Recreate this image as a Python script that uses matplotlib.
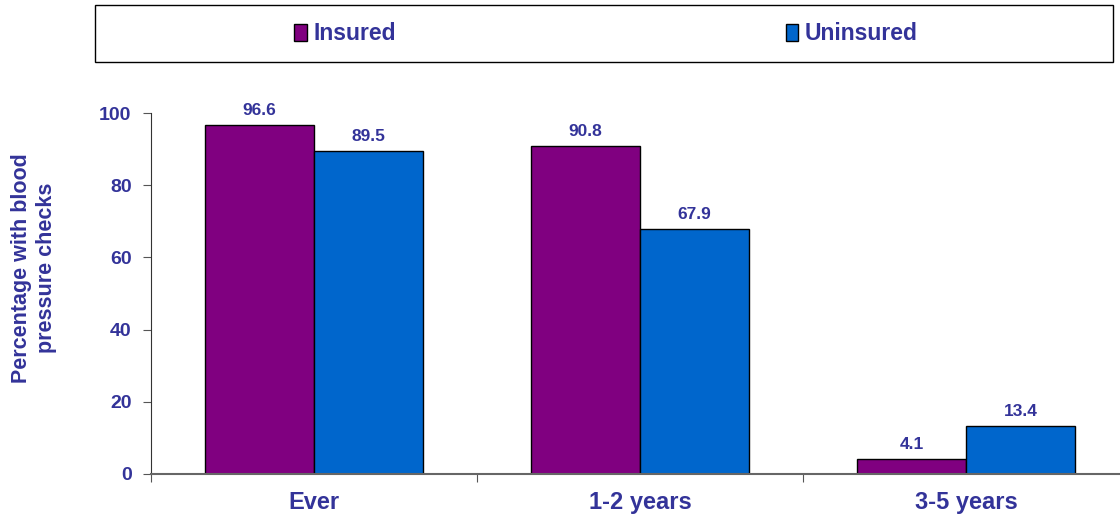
import matplotlib.pyplot as plt
import numpy as np
from matplotlib.patches import Rectangle

plt.rcParams['font.family'] = ['Liberation Sans', 'DejaVu Sans']

categories = ['Ever', '1-2 years', '3-5 years']
insured = [96.6, 90.8, 4.1]
uninsured = [89.5, 67.9, 13.4]

text_color = '#333399'

fig = plt.figure(figsize=(11.2, 5.25), dpi=100)
ax = fig.add_axes([151 / 1120, 1 - 474 / 525, 978 / 1120, 361 / 525])

x = np.arange(len(categories))
w = 0.335
b1 = ax.bar(x - w / 2, insured, w, color='#800080', edgecolor='black', linewidth=1, label='Insured')
b2 = ax.bar(x + w / 2, uninsured, w, color='#0066CC', edgecolor='black', linewidth=1, label='Uninsured')

ax.bar_label(b1, fmt='%.1f', padding=5, color=text_color, fontsize=12.5, fontweight='bold')
ax.bar_label(b2, fmt='%.1f', padding=5, color=text_color, fontsize=12.5, fontweight='bold')

ax.set_xlim(-0.5, 2.5)
ax.set_ylim(0, 100)
ax.set_yticks([0, 20, 40, 60, 80, 100])
ax.set_xticks([-0.5, 0.5, 1.5, 2.5])
ax.set_xticklabels([])
ax.set_xticks(x, minor=True)
ax.set_xticklabels(categories, minor=True)
ax.tick_params(axis='x', which='minor', length=0, pad=12, labelsize=17, labelcolor=text_color)
ax.tick_params(axis='x', which='major', length=6, direction='out', color='#555555')
ax.tick_params(axis='y', length=6, direction='out', labelsize=14, labelcolor=text_color, pad=8, color='#555555')
for lab in ax.get_xticklabels(minor=True) + ax.get_yticklabels():
    lab.set_fontweight('bold')

ax.spines['top'].set_visible(False)
ax.spines['right'].set_visible(False)
ax.spines['left'].set_color('#333333')
ax.spines['bottom'].set_color('#666666')
ax.spines['bottom'].set_linewidth(1.5)

fig.text(34 / 1120, 1 - 268 / 525, 'Percentage with blood\npressure checks', rotation=90,
         ha='center', va='center', color=text_color, fontsize=15.5, fontweight='bold',
         multialignment='center', linespacing=1.25)

# legend box
fig.patches.append(Rectangle((95 / 1120, 1 - 62 / 525), 1018 / 1120, 57 / 525,
                             transform=fig.transFigure, fill=False, edgecolor='black', linewidth=1))
leg = fig.legend(handles=[b1, b2], labels=['Insured', 'Uninsured'], loc='center',
                 bbox_to_anchor=(606 / 1120, 1 - 34 / 525), ncol=2, frameon=False,
                 prop={'weight': 'bold', 'size': 16.5}, handlelength=0.55, handleheight=0.75,
                 handletextpad=0.3, columnspacing=17)
for t in leg.get_texts():
    t.set_color(text_color)

fig.savefig('out.png', dpi=100)
